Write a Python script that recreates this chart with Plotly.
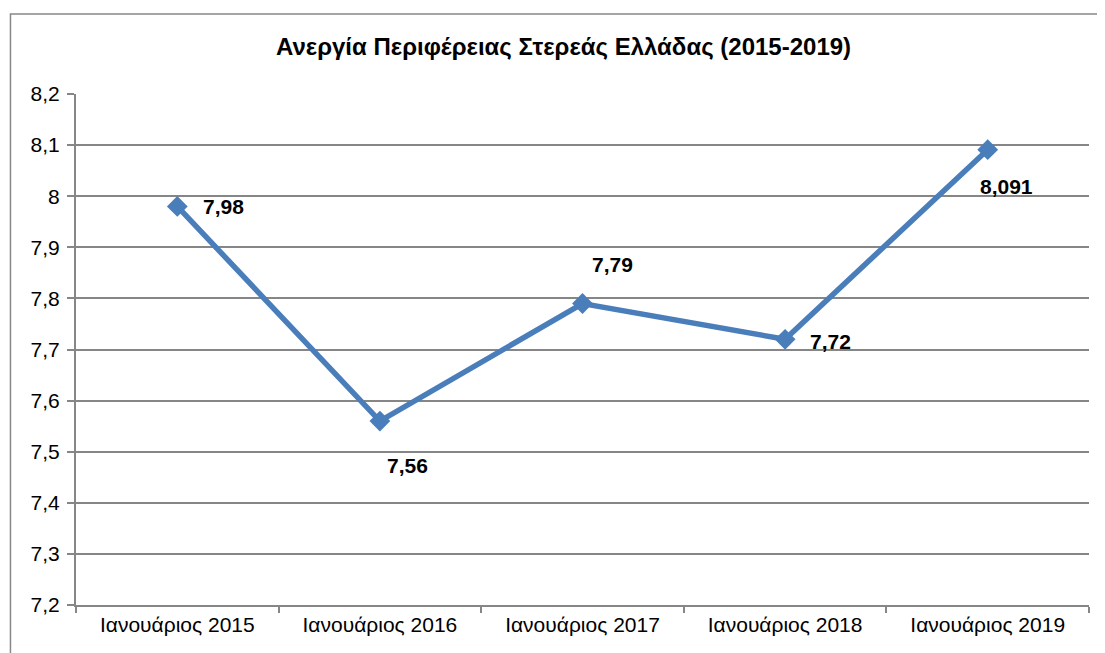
import plotly.graph_objects as go

categories = ["Ιανουάριος 2015", "Ιανουάριος 2016", "Ιανουάριος 2017", "Ιανουάριος 2018", "Ιανουάριος 2019"]
values = [7.98, 7.56, 7.79, 7.72, 8.091]
value_labels = ["7,98", "7,56", "7,79", "7,72", "8,091"]
y_ticks = [7.2, 7.3, 7.4, 7.5, 7.6, 7.7, 7.8, 7.9, 8.0, 8.1, 8.2]
y_tick_labels = ["7,2", "7,3", "7,4", "7,5", "7,6", "7,7", "7,8", "7,9", "8", "8,1", "8,2"]
label_shifts = [(46, 0), (28, -44), (30, 39), (45, -2), (19, -37)]

FONT = "Arial, Liberation Sans, sans-serif"
BLUE = "#4A7EBB"
GRID = "#868686"

fig = go.Figure()
fig.add_trace(go.Scatter(
    x=categories, y=values, mode="lines+markers",
    line=dict(color=BLUE, width=5.5),
    marker=dict(symbol="diamond", size=16, color=BLUE),
    hoverinfo="skip", showlegend=False,
))

for c, v, t, (dx, dy) in zip(categories, values, value_labels, label_shifts):
    fig.add_annotation(x=c, y=v, text="<b>" + t + "</b>", showarrow=False,
                       xshift=dx, yshift=dy,
                       font=dict(family=FONT, size=21, color="black"))

# outer chart border (only left & top edges fall inside the picture)
fig.add_shape(type="path", xref="paper", yref="paper",
              path="M -0.0647,-0.2 L -0.0647,1.1566 L 1.2,1.1566",
              line=dict(color="#888888", width=1.5),
              layer="below")

fig.update_layout(
    width=1097, height=645,
    margin=dict(l=68, r=16, t=86, b=48),
    paper_bgcolor="white", plot_bgcolor="white",
    title=dict(text="<b>Ανεργία Περιφέρειας Στερεάς Ελλάδας (2015-2019)</b>",
               x=0.5064, xanchor="center", y=0.9395, yanchor="middle",
               font=dict(family=FONT, size=24, color="black")),
    font=dict(family=FONT, size=21, color="black"),
    xaxis=dict(
        type="category", showgrid=False,
        showline=True, linecolor=GRID, linewidth=2,
        ticks="outside", ticklen=6, tickcolor=GRID, tickwidth=2,
        tickson="boundaries", range=[-0.5, 4.5],
        tickfont=dict(family=FONT, size=21, color="black"),
    ),
    yaxis=dict(
        range=[7.2, 8.2], tickvals=y_ticks, ticktext=y_tick_labels,
        showgrid=True, gridcolor=GRID, gridwidth=1.5,
        showline=True, linecolor=GRID, linewidth=2,
        ticks="outside", ticklen=7, tickcolor=GRID, tickwidth=2,
        zeroline=False, ticklabelstandoff=3,
        tickfont=dict(family=FONT, size=21, color="black"),
    ),
)

fig.write_html("out.html")
